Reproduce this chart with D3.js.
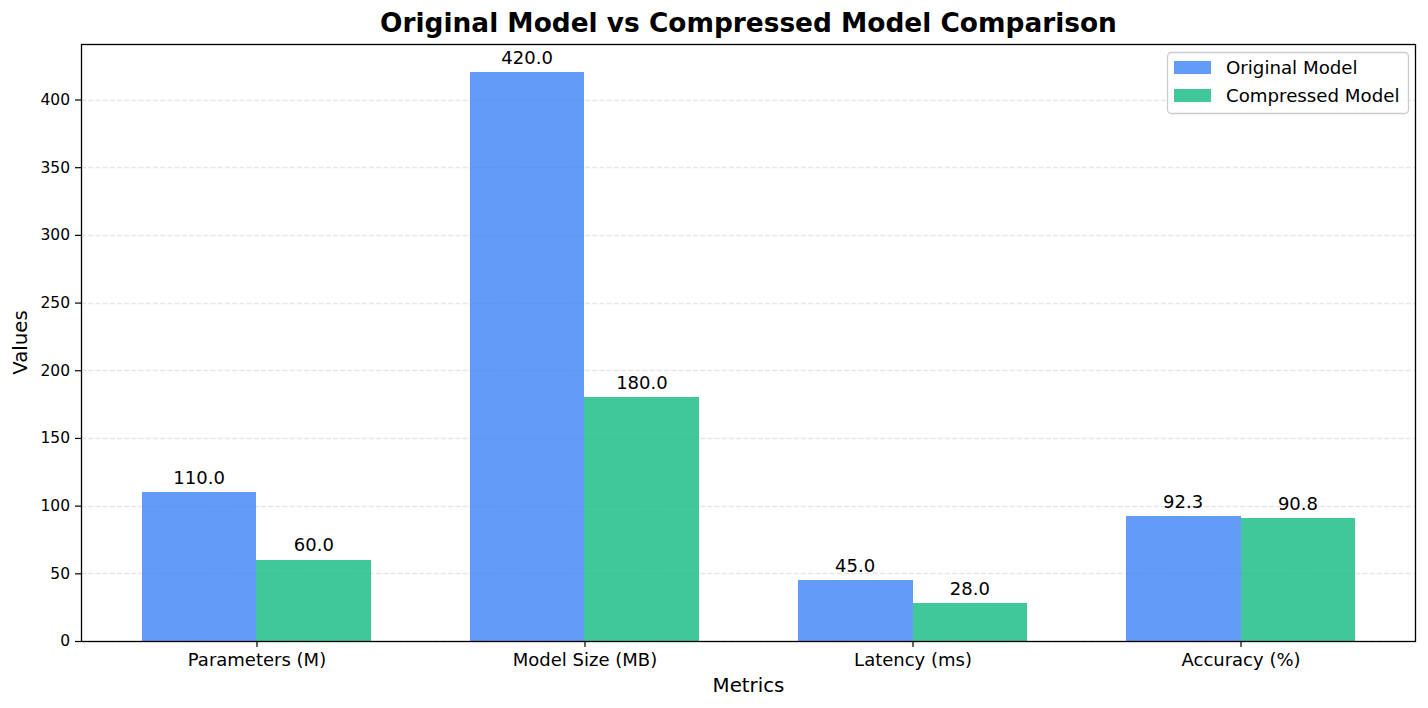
<!DOCTYPE html>
<html><head><meta charset="utf-8">
<script src="https://cdn.jsdelivr.net/npm/d3@7/dist/d3.min.js"></script>
<style>body{margin:0;background:#fff;} svg{display:block;font-family:"DejaVu Sans",sans-serif;}</style>
</head><body>
<script>
const categories = ["Parameters (M)", "Model Size (MB)", "Latency (ms)", "Accuracy (%)"];
const seriesNames = ["Original Model", "Compressed Model"];
const originalValues = [110.0, 420.0, 45.0, 92.3];
const compressedValues = [60.0, 180.0, 28.0, 90.8];
const yTicks = [0, 50, 100, 150, 200, 250, 300, 350, 400];
const colors = ["#3b82f6", "#10b981"];

const W = 1428, H = 708;
const m = {left: 81, right: 1416, top: 44, bottom: 641};
const svg = d3.select("body").append("svg").attr("width", W).attr("height", H);

const barW = 0.35;
const x = d3.scaleLinear().domain([-0.535, 3.535]).range([m.left, m.right]);
const y = d3.scaleLinear().domain([0, 441]).range([m.bottom, m.top]);

// grid
svg.append("g").selectAll("line").data(yTicks).join("line")
  .attr("x1", m.left).attr("x2", m.right)
  .attr("y1", d => Math.round(y(d)) + 0.5).attr("y2", d => Math.round(y(d)) + 0.5)
  .attr("stroke", "#b0b0b0").attr("stroke-opacity", 0.3)
  .attr("stroke-width", 1.3).attr("stroke-dasharray", "5,2.2");

const series = [originalValues, compressedValues];
series.forEach((vals, si) => {
  const off = si === 0 ? -barW / 2 : barW / 2;
  const g = svg.append("g");
  g.selectAll("rect").data(vals).join("rect")
    .attr("x", (d, i) => x(i + off - barW / 2))
    .attr("width", (d, i) => x(i + off + barW / 2) - x(i + off - barW / 2))
    .attr("y", d => y(d)).attr("height", d => y(0) - y(d))
    .attr("shape-rendering", "crispEdges")
    .attr("fill", colors[si]).attr("fill-opacity", 0.8);
  g.selectAll("text").data(vals).join("text")
    .attr("x", (d, i) => x(i + off)).attr("y", d => y(d) - 8.5)
    .attr("text-anchor", "middle").attr("font-size", 18).attr("fill", "#000")
    .text(d => d.toFixed(1));
});

// axes
const yAxis = d3.axisLeft(y).tickValues(yTicks).tickSize(6).tickPadding(5);
const gy = svg.append("g").attr("transform", `translate(${m.left},0)`).call(yAxis);
gy.select(".domain").remove();
gy.selectAll("text").attr("font-size", 15.5).attr("font-family", "DejaVu Sans").attr("fill", "#000");
gy.selectAll("line").attr("stroke", "#000").attr("stroke-width", 1.2);

const xAxis = d3.axisBottom(x).tickValues([0, 1, 2, 3]).tickFormat(i => categories[i]).tickSize(6).tickPadding(6);
const gx = svg.append("g").attr("transform", `translate(0,${m.bottom})`).call(xAxis);
gx.select(".domain").remove();
gx.selectAll("text").attr("font-size", 18).attr("font-family", "DejaVu Sans").attr("fill", "#000");
gx.selectAll("line").attr("stroke", "#000").attr("stroke-width", 1.2);

svg.append("rect").attr("x", m.left + 0.5).attr("y", m.top + 0.5)
  .attr("width", m.right - m.left - 1).attr("height", m.bottom - m.top)
  .attr("fill", "none").attr("stroke", "#000").attr("stroke-width", 1.3);

// labels
svg.append("text").attr("x", (m.left + m.right) / 2).attr("y", 32)
  .attr("text-anchor", "middle").attr("font-size", 26.4).attr("font-weight", "bold").text("Original Model vs Compressed Model Comparison");
svg.append("text").attr("x", (m.left + m.right) / 2).attr("y", 692)
  .attr("text-anchor", "middle").attr("font-size", 19.8).text("Metrics");
svg.append("text").attr("transform", `translate(27,${(m.top + m.bottom) / 2}) rotate(-90)`)
  .attr("text-anchor", "middle").attr("font-size", 19.8).text("Values");

// legend
const lg = svg.append("g");
lg.append("rect").attr("x", 1167.5).attr("y", 52.5).attr("width", 241).attr("height", 61).attr("rx", 4)
  .attr("fill", "#fff").attr("fill-opacity", 0.8).attr("stroke", "#cccccc").attr("stroke-width", 1.3);
seriesNames.forEach((n, i) => {
  lg.append("rect").attr("x", 1174).attr("y", 61 + i * 28).attr("width", 37).attr("height", 13)
    .attr("fill", colors[i]).attr("fill-opacity", 0.8);
  lg.append("text").attr("x", 1226).attr("y", 74 + i * 28).attr("font-size", 18.2).text(n);
});
</script>
</body></html>
